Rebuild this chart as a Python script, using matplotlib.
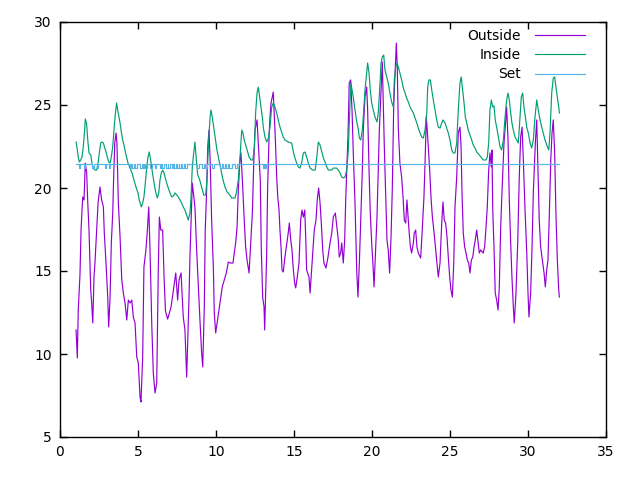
import numpy as np
import matplotlib
matplotlib.use("Agg")
import matplotlib.pyplot as plt

# ---------------- data ----------------
out_x = [1.03,1.11,1.17,1.28,1.35,1.41,1.46,1.54,1.58,1.62,1.71,1.78,1.86,1.92,1.97,2.03,2.10,2.18,2.24,2.35,
         2.44,2.56,2.67,2.78,2.84,2.95,3.06,3.12,3.21,3.29,3.38,3.44,3.51,3.59,3.65,3.74,3.85,3.96,4.06,4.17,
         4.28,4.38,4.49,4.60,4.70,4.81,4.92,5.02,5.13,5.19,5.30,5.38,5.51,5.60,5.69,5.77,5.88,5.98,6.09,6.20,
         6.30,6.37,6.46,6.58,6.67,6.76,6.90,7.12,7.33,7.42,7.54,7.63,7.76,7.90,8.01,8.08,8.12,8.27,8.33,8.40,
         8.48,8.65,8.76,8.87,8.97,9.08,9.15,9.25,9.31,9.40,9.47,9.55,9.63,9.72,9.83,9.89,9.98,10.19,10.28,10.40,
         10.53,10.66,10.79,10.92,11.09,11.17,11.26,11.35,11.43,11.52,11.60,11.69,11.81,11.90,11.99,12.12,12.33,12.42,12.50,12.63,
         12.84,12.90,12.99,13.08,13.12,13.25,13.31,13.40,13.46,13.53,13.67,13.80,13.89,13.96,14.04,14.10,14.17,14.23,14.31,14.42,
         14.63,14.70,14.79,14.87,14.96,15.04,15.11,15.21,15.32,15.43,15.51,15.60,15.69,15.75,15.81,15.96,16.03,16.20,16.30,16.41,
         16.49,16.58,16.67,16.75,16.84,16.92,17.05,17.18,17.31,17.42,17.52,17.65,17.84,17.90,17.99,18.06,18.16,18.25,18.31,18.38,
         18.46,18.54,18.63,18.72,18.80,18.91,19.02,19.10,19.19,19.29,19.38,19.44,19.55,19.66,19.72,19.81,19.89,19.98,20.08,20.13,
         20.24,20.32,20.40,20.47,20.58,20.66,20.79,20.88,20.96,21.04,21.13,21.22,21.30,21.39,21.47,21.56,21.62,21.69,21.79,21.90,
         21.99,22.07,22.16,22.24,22.37,22.46,22.54,22.65,22.71,22.80,22.88,22.97,23.12,23.22,23.33,23.40,23.48,23.54,23.61,23.70,
         23.78,23.87,23.96,24.04,24.15,24.25,24.36,24.47,24.55,24.63,24.72,24.81,24.89,24.98,25.06,25.15,25.24,25.32,25.43,25.53,
         25.64,25.71,25.77,25.85,25.94,26.03,26.11,26.20,26.28,26.37,26.46,26.54,26.62,26.71,26.88,26.97,27.13,27.22,27.31,27.39,
         27.48,27.56,27.65,27.69,27.74,27.82,27.90,27.99,28.08,28.16,28.25,28.33,28.46,28.54,28.63,28.72,28.80,28.89,28.97,29.06,
         29.12,29.23,29.34,29.44,29.53,29.62,29.70,29.81,29.92,30.00,30.06,30.17,30.26,30.34,30.47,30.56,30.64,30.72,30.81,30.92,
         31.03,31.11,31.20,31.28,31.37,31.46,31.54,31.62,31.71,31.79,31.88,31.97,32.01]
out_y = [11.45,9.76,12.65,14.76,17.47,18.67,19.46,19.28,20.30,21.50,20.90,19.10,17.47,15.54,13.86,13.07,11.87,14.64,15.48,17.47,
         19.10,20.06,19.28,18.86,17.29,15.48,13.43,11.63,13.43,16.69,18.49,20.66,22.71,23.31,22.71,19.10,17.05,14.46,13.67,13.07,
         12.05,13.25,13.07,13.25,12.23,11.87,9.82,9.46,7.41,7.11,9.82,15.24,16.27,17.47,18.86,16.27,11.87,8.86,7.65,8.25,
         15.06,18.25,17.47,17.47,14.64,12.60,12.10,12.83,14.28,14.88,13.25,14.46,14.88,12.23,11.45,9.64,8.61,13.43,15.84,17.89,
         20.30,18.86,16.27,14.04,12.05,10.06,9.22,12.83,17.47,19.88,22.47,23.49,21.50,18.07,15.24,12.47,11.27,12.65,13.25,14.04,
         14.46,14.88,15.54,15.48,15.48,16.08,16.69,17.65,19.88,21.50,22.11,20.48,18.07,16.45,15.66,14.88,18.49,21.50,23.49,24.10,
         20.48,16.50,13.43,12.83,11.45,16.08,20.06,23.07,24.28,25.12,25.78,23.07,20.66,19.46,18.67,17.47,16.45,15.06,14.94,15.84,
         17.29,17.89,16.87,16.27,15.06,14.28,13.98,14.64,15.48,18.07,18.67,18.25,18.67,17.05,15.06,14.64,13.67,16.08,17.47,18.07,
         19.28,20.00,19.10,17.89,16.27,15.48,15.18,15.84,16.69,17.29,18.25,18.49,16.87,15.84,16.08,16.69,15.48,16.87,19.10,21.08,
         23.07,26.33,26.51,24.70,22.11,19.10,15.06,13.43,15.48,18.49,21.08,23.49,25.48,26.08,24.70,21.08,18.49,16.69,15.06,14.04,
         16.45,18.25,21.08,23.49,25.90,27.59,22.47,19.46,16.87,16.27,14.88,17.05,19.88,24.88,26.69,28.73,27.29,23.49,21.50,20.66,
         19.46,18.07,17.89,19.28,17.47,16.45,16.08,16.69,17.29,17.47,16.45,16.08,15.78,17.47,19.46,21.50,24.28,23.49,22.47,21.08,
         19.46,18.25,17.47,16.69,15.66,14.64,15.48,17.89,19.16,18.07,17.89,17.05,15.84,14.64,13.86,13.43,15.48,18.86,20.66,23.31,
         23.67,22.47,19.70,17.29,16.45,16.08,15.66,15.48,14.88,15.66,15.84,16.45,16.87,17.47,16.08,16.27,16.08,16.45,17.65,18.86,
         21.08,22.11,21.27,22.29,18.67,16.45,13.67,13.25,12.65,14.04,17.65,19.70,22.71,23.67,24.88,22.89,19.28,16.69,14.64,12.83,
         11.87,13.67,16.69,20.66,23.07,23.67,21.69,18.67,16.08,13.67,12.23,13.67,16.45,19.70,22.71,24.10,21.08,18.07,16.45,15.66,
         14.88,14.04,15.06,15.66,18.49,21.69,23.31,24.10,22.11,18.49,15.66,13.86,13.43]

in_x = [1.03,1.11,1.17,1.24,1.33,1.41,1.49,1.58,1.62,1.70,1.78,1.86,1.97,2.05,2.13,2.24,2.35,2.44,2.52,2.61,
        2.69,2.78,2.87,2.95,3.03,3.12,3.21,3.29,3.38,3.46,3.54,3.63,3.70,3.78,3.85,3.93,4.02,4.10,4.19,4.28,
        4.36,4.49,4.62,4.74,4.87,5.00,5.08,5.21,5.30,5.38,5.47,5.56,5.64,5.72,5.81,5.90,5.98,6.07,6.15,6.24,
        6.33,6.41,6.49,6.58,6.67,6.75,6.84,6.94,7.05,7.16,7.27,7.37,7.47,7.58,7.69,7.80,7.90,8.01,8.12,8.22,
        8.33,8.40,8.48,8.57,8.65,8.74,8.83,8.96,9.08,9.21,9.34,9.42,9.51,9.62,9.68,9.76,9.85,9.94,10.06,10.19,
        10.32,10.45,10.58,10.71,10.88,11.01,11.22,11.30,11.43,11.54,11.65,11.73,11.81,11.90,11.99,12.12,12.24,12.36,12.46,12.54,
        12.63,12.71,12.80,12.88,12.97,13.03,13.14,13.25,13.36,13.46,13.57,13.67,13.78,13.89,13.99,14.10,14.21,14.31,14.42,14.63,
        14.85,14.96,15.06,15.17,15.28,15.38,15.49,15.60,15.71,15.81,15.92,16.03,16.20,16.36,16.46,16.56,16.67,16.78,16.88,16.99,
        17.10,17.20,17.42,17.52,17.74,17.84,17.95,18.06,18.16,18.27,18.38,18.48,18.59,18.65,18.72,18.80,18.91,19.02,19.12,19.19,
        19.28,19.38,19.47,19.55,19.66,19.72,19.81,19.89,19.98,20.08,20.19,20.32,20.40,20.49,20.58,20.66,20.75,20.83,20.94,21.04,
        21.15,21.26,21.37,21.43,21.52,21.60,21.69,21.79,21.90,22.01,22.12,22.22,22.33,22.44,22.54,22.65,22.76,22.87,22.97,23.08,
        23.19,23.29,23.40,23.51,23.57,23.65,23.74,23.83,23.93,24.04,24.15,24.25,24.36,24.47,24.55,24.68,24.79,24.89,25.00,25.11,
        25.21,25.32,25.43,25.53,25.64,25.72,25.81,25.90,25.98,26.07,26.17,26.28,26.39,26.49,26.60,26.71,26.88,27.03,27.13,27.31,
        27.39,27.48,27.56,27.65,27.74,27.82,27.90,27.99,28.10,28.21,28.31,28.42,28.53,28.63,28.72,28.80,28.89,28.97,29.06,29.17,
        29.28,29.38,29.49,29.57,29.66,29.74,29.83,29.92,30.02,30.13,30.24,30.34,30.45,30.56,30.66,30.77,30.88,30.98,31.09,31.20,
        31.33,31.41,31.52,31.62,31.71,31.79,31.88,31.97,32.01]
in_y = [22.77,22.29,21.87,21.57,21.69,21.87,22.47,23.49,24.16,23.90,22.89,22.11,21.99,21.50,21.20,21.08,21.08,21.50,22.11,22.71,
        22.77,22.71,22.41,22.17,21.87,21.57,21.50,21.87,22.47,23.49,24.40,25.12,24.70,24.28,23.92,23.37,22.89,22.59,22.17,21.81,
        21.50,21.20,20.90,20.48,20.06,19.70,19.28,18.86,19.10,19.46,20.30,21.27,21.87,22.17,21.69,21.08,20.60,20.06,19.70,19.40,
        19.70,20.48,20.90,21.08,20.90,20.60,20.30,20.00,19.70,19.46,19.52,19.70,19.60,19.46,19.28,19.10,18.86,18.67,18.37,18.07,
        18.49,19.46,21.27,22.11,22.77,21.69,20.78,20.48,20.06,19.58,19.58,20.48,22.47,24.28,24.70,24.28,23.67,23.07,22.29,21.69,
        21.08,20.48,20.06,19.76,19.58,19.40,19.40,19.70,20.48,21.87,23.49,23.31,22.89,22.59,22.29,21.87,21.69,21.69,22.47,24.52,
        25.72,26.08,25.48,24.88,24.28,23.67,23.07,22.77,23.00,23.67,24.88,25.12,24.88,24.52,24.10,23.67,23.37,23.07,22.89,22.77,
        22.71,22.17,21.81,21.50,21.27,21.20,21.50,22.11,22.17,21.87,21.50,21.20,21.08,21.08,21.87,22.77,22.59,22.17,21.81,21.57,
        21.27,21.08,21.08,21.20,21.20,21.08,20.90,20.66,20.60,20.66,21.08,22.29,25.12,26.33,25.90,25.48,24.70,24.00,23.55,23.01,
        22.89,23.49,24.70,25.90,26.93,27.53,26.93,25.90,25.12,24.70,24.28,23.98,24.52,25.90,27.53,27.89,28.01,27.11,26.69,26.33,
        25.72,25.18,24.88,26.51,27.29,27.53,27.29,26.93,26.51,26.02,25.72,25.42,25.18,24.88,24.70,24.52,24.22,23.92,23.61,23.31,
        23.07,23.01,23.49,24.52,26.08,26.51,26.51,25.90,25.30,24.70,24.10,23.67,23.61,23.92,24.10,23.92,23.61,23.31,22.89,22.29,
        22.11,22.11,22.71,24.70,26.33,26.69,25.90,25.12,24.28,23.92,23.49,23.19,22.89,22.59,22.41,22.17,21.99,21.81,21.69,21.69,
        21.87,22.71,24.70,25.30,24.88,24.95,24.10,23.67,23.07,22.47,22.29,22.89,24.28,25.30,25.72,25.30,24.52,23.92,23.49,23.07,
        22.89,22.71,24.28,25.48,25.72,24.88,24.28,23.67,23.31,22.71,22.41,22.89,24.28,25.30,24.70,24.10,23.67,23.31,22.89,22.59,
        22.29,23.31,25.72,26.63,26.69,26.08,25.48,24.88,24.52]

set_start, set_end = 1.03, 32.01
set_level = 21.45
set_low = 21.2
dip_start = [1.22,1.54,2.05,2.37,2.88,3.14,4.49,4.62,4.80,5.13,5.30,5.45,5.77,6.09,6.41,6.55,6.79,6.95,7.15,7.30,
             7.50,7.65,7.85,8.00,8.78,9.10,9.28,9.74,10.26,10.45,10.62,10.85,11.22,13.01,13.15]
dip_end   = [1.30,1.60,2.15,2.45,2.96,3.22,4.57,4.74,4.94,5.24,5.40,5.58,5.88,6.18,6.49,6.67,6.90,7.08,7.25,7.42,
             7.60,7.78,7.95,8.14,8.90,9.22,9.42,9.90,10.38,10.56,10.78,11.03,11.32,13.08,13.23]

x_ticks = [0, 5, 10, 15, 20, 25, 30, 35]
y_ticks = [5, 10, 15, 20, 25, 30]

# ---------------- build set-point step line ----------------
sx = [set_start]
sy = [set_level]
for a, b in zip(dip_start, dip_end):
    sx += [a, a, b, b]
    sy += [set_level, set_low, set_low, set_level]
sx.append(set_end)
sy.append(set_level)

# ---------------- plot ----------------
plt.rcParams['font.family'] = ['DejaVu Sans']
fig = plt.figure(figsize=(6.4, 4.8), dpi=100)
ax = fig.add_axes([60/640, 1-437/480, (606-60)/640, (437-22)/480])

ax.plot(out_x, out_y, color='#9400D3', lw=0.85, label='Outside')
ax.plot(in_x, in_y, color='#009E73', lw=0.85, label='Inside')
ax.plot(sx, sy, color='#56B4E9', lw=0.85, label='Set')

ax.set_xlim(0, 35)
ax.set_ylim(5, 30)
ax.set_xticks(x_ticks)
ax.set_yticks(y_ticks)
ax.tick_params(direction='in', length=5, width=1, top=True, right=True, labelsize=10, pad=6)
for s in ax.spines.values():
    s.set_linewidth(1)

leg = ax.legend(loc='upper right', frameon=False, markerfirst=False, handlelength=3.6,
                fontsize=10, labelspacing=0.38, handletextpad=1.0,
                bbox_to_anchor=(0.974, 1.0), borderaxespad=0.1)
for t in leg.get_texts():
    t.set_ha('right')
leg._legend_box.align = 'right'

fig.savefig('out.png', dpi=100)
